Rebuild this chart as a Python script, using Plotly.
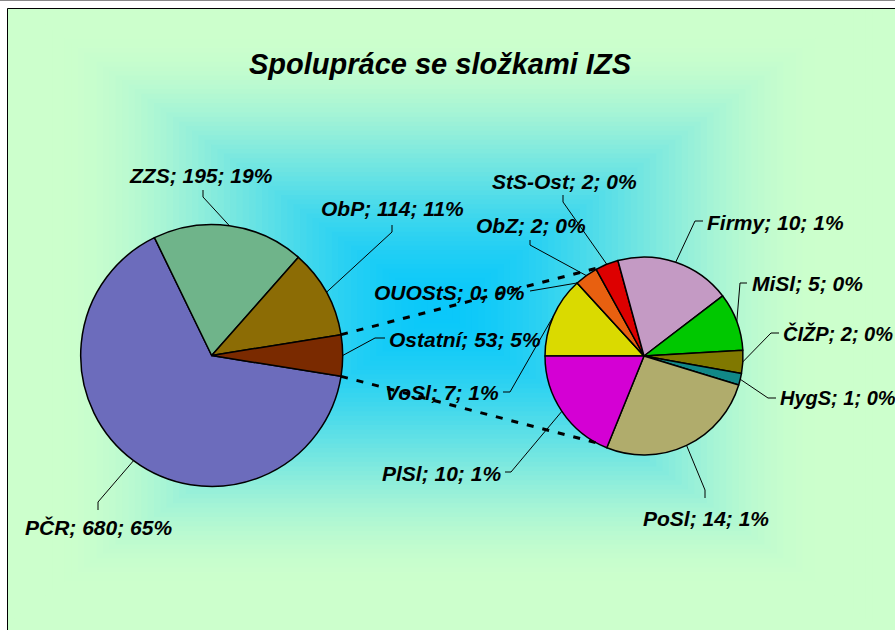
import math
import plotly.graph_objects as go

# ---------------- data ----------------
main_labels = ["PČR", "ZZS", "ObP", "Ostatní"]
main_values = [680, 195, 114, 53]
sub_labels = ["VoSl", "OUOStS", "ObZ", "StS-Ost", "Firmy", "MiSl", "ČIŽP", "HygS", "PoSl", "PlSl"]
sub_values = [7, 0, 2, 2, 10, 5, 2, 1, 14, 10]
title_text = "Spolupráce se složkami IZS"

# ---------------- styles ----------------
W, H = 895, 630
main_colors = ["#6C6CBC", "#6FB48A", "#8C6C05", "#7A2A00"]
sub_colors = ["#DADA00", "#3366FF", "#E86010", "#DD0000", "#C49AC4",
              "#00C800", "#807800", "#118888", "#B0AC6C", "#D400D4"]
FONT = "Liberation Sans, Arial, sans-serif"
LABEL_SIZE = 21

MAIN_C, MAIN_R = (211.7, 355.5), 131
SUB_C, SUB_R = (644.0, 356.0), 99

# label positions: (x, y, xanchor, elbow, tick_end)
label_pos = {
    "PČR": (98, 527, "center", (98, 502), (98, 510)),
    "ZZS": (201, 175, "center", (203, 197), (203, 190)),
    "ObP": (392, 209, "center", (392, 232), (392, 225)),
    "Ostatní": (387, 339, "left", (375, 338), (385, 338)),
    "VoSl": (501, 392, "right", (510, 392), (503, 392)),
    "OUOStS": (527, 292, "right", None, (530, 291)),
    "ObZ": (531, 225, "center", (530, 245), (530, 240)),
    "StS-Ost": (564, 181, "center", (563, 202), (563, 195)),
    "Firmy": (705, 222, "left", (695, 221), (703, 221)),
    "MiSl": (750, 283, "left", (740, 283), (747, 283)),
    "ČIŽP": (781, 333, "left", (771, 333), (779, 333)),
    "HygS": (778, 398, "left", (768, 398), (776, 398)),
    "PoSl": (706, 518, "center", (705, 490), (705, 498)),
    "PlSl": (503, 473, "right", (511, 472), (505, 472)),
}
label_size_override = {"HygS": 20, "ČIŽP": 20}


def X(px):
    return px / W


def Y(py):
    return 1 - py / H


def edge(c, r, cw_deg):
    a = math.radians(cw_deg)
    return (c[0] + r * math.sin(a), c[1] - r * math.cos(a))


def domain(c, r):
    return dict(x=[X(c[0] - r), X(c[0] + r)], y=[Y(c[1] + r), Y(c[1] - r)])


total = sum(main_values)
ost_angle = 360.0 * main_values[-1] / total
rot_main = 90 + ost_angle / 2
rot_sub = -90


def mid_angles(values, rot):
    tot = sum(values)
    out, cum = [], 0.0
    for v in values:
        a = 360.0 * v / tot
        out.append(rot + cum + a / 2)
        cum += a
    return out


fig = go.Figure()
fig.add_trace(go.Pie(
    labels=main_labels, values=main_values, sort=False, direction="clockwise",
    rotation=rot_main, textinfo="none", showlegend=False,
    marker=dict(colors=main_colors, line=dict(color="black", width=1.5)),
    domain=domain(MAIN_C, MAIN_R)))
fig.add_trace(go.Pie(
    labels=sub_labels, values=sub_values, sort=False, direction="clockwise",
    rotation=rot_sub, textinfo="none", showlegend=False,
    marker=dict(colors=sub_colors, line=dict(color="black", width=1.5)),
    domain=domain(SUB_C, SUB_R)))

shapes = []
# background: rectangular "from center" gradient
gc = (440, 310)
ghw, ghh = 445, 322
c_in = (10, 200, 250)
c_out = (204, 255, 204)
N = 70
for i in range(N, 0, -1):
    t = i / N
    u = min(1.0, 1.15 * t)
    f = u * u * (3 - 2 * u)
    col = tuple(int(round(c_in[k] + (c_out[k] - c_in[k]) * f)) for k in range(3))
    x0 = max(gc[0] - t * ghw, 7)
    y0 = max(gc[1] - t * ghh, 8)
    x1 = gc[0] + t * ghw if i < N else 1200
    y1 = gc[1] + t * ghh if i < N else 1200
    shapes.append(dict(type="rect", xref="paper", yref="paper", layer="below",
                       x0=X(x0), x1=X(x1), y0=Y(y1), y1=Y(y0),
                       fillcolor="rgb(%d,%d,%d)" % col, line=dict(width=0)))
# chart border
shapes.append(dict(type="rect", xref="paper", yref="paper", layer="above",
                   x0=X(7.5), x1=X(1200), y0=Y(1200), y1=Y(8.5),
                   line=dict(color="black", width=1), fillcolor="rgba(0,0,0,0)"))
shapes.append(dict(type="line", xref="paper", yref="paper", x0=0, x1=1,
                   y0=Y(0.5), y1=Y(0.5), line=dict(color="#888888", width=1)))

# series lines (connectors)
top_a = rot_main - ost_angle
bot_a = rot_main
for a_main, a_sub in ((top_a, 333.7), (bot_a, 208.7)):
    p0 = edge(MAIN_C, MAIN_R, a_main)
    p1 = edge(SUB_C, SUB_R, a_sub)
    shapes.append(dict(type="line", xref="paper", yref="paper",
                       x0=X(p0[0]), y0=Y(p0[1]), x1=X(p1[0]), y1=Y(p1[1]),
                       line=dict(color="black", width=3, dash="7px,9px")))

annotations = []


def add_labels(labels, values, rot, c, r):
    mids = mid_angles(values, rot)
    for lab, v, m in zip(labels, values, mids):
        pct = int(round(100.0 * v / total))
        x, y, xa, elbow, tick = label_pos[lab]
        annotations.append(dict(
            x=X(x), y=Y(y), xref="paper", yref="paper", xanchor=xa, yanchor="middle",
            text=f"{lab}; {v}; {pct}%", showarrow=False,
            font=dict(family=FONT, size=label_size_override.get(lab, LABEL_SIZE),
                      color="black", weight="bold", style="italic")))
        p = edge(c, r, m)
        pts = [p] + ([elbow] if elbow else []) + [tick]
        for a, b in zip(pts[:-1], pts[1:]):
            shapes.append(dict(type="line", xref="paper", yref="paper",
                               x0=X(a[0]), y0=Y(a[1]), x1=X(b[0]), y1=Y(b[1]),
                               line=dict(color="black", width=1)))


add_labels(main_labels, main_values, rot_main, MAIN_C, MAIN_R)
add_labels(sub_labels, sub_values, rot_sub, SUB_C, SUB_R)

fig.update_layout(
    width=W, height=H, margin=dict(l=0, r=0, t=0, b=0),
    paper_bgcolor="white", plot_bgcolor="white",
    title=dict(text=title_text, x=X(440), y=Y(64), xref="paper", yref="container",
               xanchor="center", yanchor="middle",
               font=dict(family=FONT, size=29, color="black", weight="bold", style="italic")),
    shapes=shapes, annotations=annotations, showlegend=False)

fig.write_html("out.html", config={"displayModeBar": False},
               post_script="document.body.style.margin='0';document.body.style.overflow='hidden';")
